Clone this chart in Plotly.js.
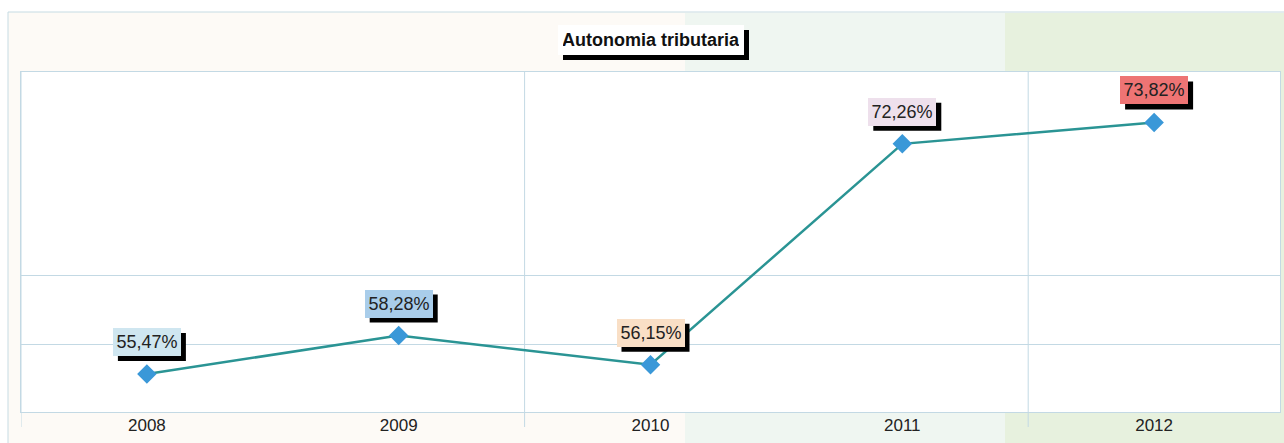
<!DOCTYPE html>
<html>
<head>
<meta charset="utf-8">
<script src="https://cdn.plot.ly/plotly-3.0.1.min.js"></script>
<style>html,body{margin:0;padding:0;background:#fff;}#chart{width:1284px;height:443px;}</style>
</head>
<body>
<div id="chart"></div>
<script>
// ---- data ----
const chartTitle = "Autonomia tributaria";
const years = ["2008", "2009", "2010", "2011", "2012"];
const values = [55.47, 58.28, 56.15, 72.26, 73.82];
const valueLabels = ["55,47%", "58,28%", "56,15%", "72,26%", "73,82%"];
const labelColors = ["#cfe6f0", "#a9cdea", "#f9dfc6", "#eee0ec", "#ee7474"];

// ---- geometry ----
const W = 1284, H = 443;
const M = {l: 21, r: 4, t: 72, b: 31};
const PW = W - M.l - M.r, PH = H - M.t - M.b;
const px = x => (x - M.l) / PW;
const py = y => (H - M.b - y) / PH;

const gridCol = "#c3d9e4";
const F = "Liberation Sans, Arial, sans-serif";
const idx = years.map((_, i) => i);

// label box styling
const LBL = {w: 62, h: 22, pad: 3, lift: 32, sh: 5};
const TTL = {cx: 651, cy: 40, w: 176, h: 20, pad: 5, sh: 5};

const trace = {
  type: "scatter",
  mode: "lines+markers",
  x: idx,
  y: values,
  text: years,
  line: {color: "#2a9494", width: 2.5},
  marker: {symbol: "diamond", size: 15, color: "#3a98d8"},
  hoverinfo: "text+y"
};

const annotations = [];
annotations.push({
  xref: "paper", yref: "paper", x: px(TTL.cx), y: py(TTL.cy), xanchor: "center", yanchor: "middle",
  text: "<b>" + chartTitle + "</b>", showarrow: false,
  font: {family: F, size: 18, color: "#111"},
  width: TTL.w, height: TTL.h, borderpad: TTL.pad, borderwidth: 0,
  bgcolor: "#ffffff"
});
idx.forEach(i => {
  annotations.push({
    x: i, y: values[i], xref: "x", yref: "y", xanchor: "center", yanchor: "middle",
    text: valueLabels[i], showarrow: false, yshift: LBL.lift,
    font: {family: F, size: 18, color: "#222"},
    width: LBL.w, height: LBL.h, borderpad: LBL.pad, borderwidth: 0,
    bgcolor: labelColors[i]
  });
});

const shapes = [
  // outer frame and background zones
  {type: "rect", xref: "paper", yref: "paper", layer: "below",
   x0: px(8), x1: px(1290), y0: py(12), y1: py(450),
   fillcolor: "#fdfaf6", line: {color: "#c6dbe3", width: 1}},
  {type: "rect", xref: "paper", yref: "paper", layer: "below",
   x0: px(685), x1: px(1005), y0: py(13), y1: py(450),
   fillcolor: "#eff6f1", line: {width: 0}},
  {type: "rect", xref: "paper", yref: "paper", layer: "below",
   x0: px(1005), x1: px(1290), y0: py(13), y1: py(450),
   fillcolor: "#e7f1de", line: {width: 0}},
  // plot area white
  {type: "rect", xref: "paper", yref: "paper", layer: "below",
   x0: 0, x1: 1, y0: 0, y1: 1, fillcolor: "#ffffff", line: {width: 0}}
];
// title shadow
{
  const bw = TTL.w + 2 * TTL.pad, bh = TTL.h + 2 * TTL.pad;
  shapes.push({type: "rect", xref: "paper", yref: "paper", layer: "above",
    x0: px(TTL.cx - bw / 2 + TTL.sh), x1: px(TTL.cx + bw / 2 + TTL.sh),
    y0: py(TTL.cy + bh / 2 + TTL.sh), y1: py(TTL.cy - bh / 2 + TTL.sh),
    fillcolor: "#000", line: {width: 0}});
}
// value label shadows (pixel-sized, anchored on each point)
idx.forEach(i => {
  const bw = LBL.w + 2 * LBL.pad, bh = LBL.h + 2 * LBL.pad;
  shapes.push({type: "rect", layer: "above",
    xref: "x", xsizemode: "pixel", xanchor: i,
    yref: "y", ysizemode: "pixel", yanchor: values[i],
    x0: LBL.sh - bw / 2, x1: LBL.sh + bw / 2,
    y0: LBL.lift - LBL.sh - bh / 2, y1: LBL.lift - LBL.sh + bh / 2,
    fillcolor: "#000", line: {width: 0}});
});
// vertical gridlines every two categories, at category boundaries, reaching below the axis
for (let i = 0; i <= years.length; i += 2) {
  shapes.push({type: "line", xref: "x", yref: "paper", layer: "below",
    x0: i - 0.5, x1: i - 0.5, y0: py(427), y1: 1,
    line: {color: gridCol, width: 1}});
}

const layout = {
  width: W, height: H,
  margin: M,
  paper_bgcolor: "#ffffff",
  plot_bgcolor: "#ffffff",
  showlegend: false,
  font: {family: F, size: 17, color: "#222"},
  xaxis: {
    type: "linear",
    range: [-0.5, years.length - 0.5],
    tickmode: "array", tickvals: idx, ticktext: years,
    showgrid: false, zeroline: false,
    showline: true, mirror: true, linecolor: gridCol, linewidth: 1,
    ticks: "", tickfont: {family: F, size: 17, color: "#222"},
    ticklabelstandoff: -2
  },
  yaxis: {
    range: [52.7, 77.5],
    tickmode: "array", tickvals: [57.66, 62.63],
    showgrid: true, gridcolor: gridCol, gridwidth: 1,
    showticklabels: false, ticks: "",
    showline: true, mirror: true, linecolor: gridCol, zeroline: false
  },
  annotations: annotations,
  shapes: shapes
};

Plotly.newPlot("chart", [trace], layout, {staticPlot: true, displayModeBar: false});
</script>
</body>
</html>
